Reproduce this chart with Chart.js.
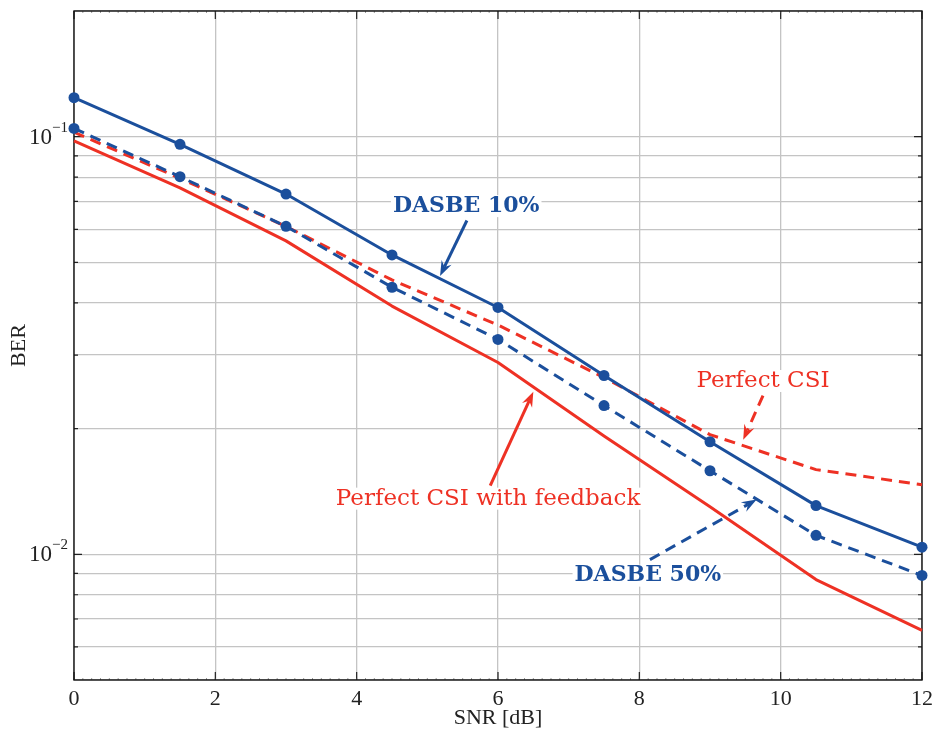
<!DOCTYPE html>
<html>
<head>
<meta charset="utf-8">
<script src="https://cdn.jsdelivr.net/npm/chart.js@4.4.1/dist/chart.umd.min.js"></script>
<style>
html,body{margin:0;padding:0;background:#fff;}
#wrap{width:937px;height:731px;position:relative;}
</style>
</head>
<body>
<div id="wrap"><canvas id="c"></canvas></div>
<script>
// ---- data ----
const snr = [0, 1.5, 3, 4.5, 6, 7.5, 9, 10.5, 12];
const dasbe10 = [0.124, 0.0959, 0.0729, 0.0521, 0.0390, 0.0268, 0.0186, 0.01308, 0.0104];
const dasbe50 = [0.1047, 0.0802, 0.0610, 0.0436, 0.0327, 0.0227, 0.01585, 0.0111, 0.0089];
const perfectCSI = [0.1025, 0.0795, 0.0610, 0.0454, 0.0354, 0.0265, 0.01934, 0.01595, 0.01468];
const perfectFb = [0.0977, 0.0754, 0.0563, 0.0393, 0.0288, 0.0192, 0.0130, 0.0087, 0.00657];
const xTickLabels = [0, 2, 4, 6, 8, 10, 12];
const yGridValues = [0.005, 0.006, 0.007, 0.008, 0.009, 0.01, 0.02, 0.03, 0.04, 0.05, 0.06, 0.07, 0.08, 0.09, 0.1, 0.2];
const yMajorTicks = [0.01, 0.1];
const yMajorExponents = ['\u22122', '\u22121'];
const seriesNames = ['DASBE 10%', 'DASBE 50%', 'Perfect CSI', 'Perfect CSI with feedback'];

// ---- style ----
const BLUE = '#1b4f9c', RED = '#ee3124';
const DASH = [11, 7];
const SERIF = '"Liberation Serif", "DejaVu Serif", serif';

// annotation anchors (data coordinates)
const notes = [
  {text: 'DASBE 10%', color: BLUE, font: 'bold 22px "DejaVu Serif"', at: [5.55, 0.0682], from: [5.56, 0.0630], to: [5.18, 0.0464], dashed: false},
  {text: 'Perfect CSI', color: RED, font: '23px "DejaVu Serif"', at: [9.75, 0.0260], from: [9.75, 0.0240], to: [9.47, 0.0188], dashed: true},
  {text: 'Perfect CSI with feedback', color: RED, font: '23px "DejaVu Serif"', at: [5.86, 0.01359], from: [5.89, 0.0146], to: [6.50, 0.0245], dashed: false},
  {text: 'DASBE 50%', color: BLUE, font: 'bold 22px "DejaVu Serif"', at: [8.12, 0.00889], from: [8.15, 0.00971], to: [9.66, 0.01352], dashed: true}
];

function drawArrow(ctx, x0, y0, x1, y1, color, dashed) {
  const ang = Math.atan2(y1 - y0, x1 - x0);
  const c = Math.cos(ang), s = Math.sin(ang);
  const L = 15, W = 5.5, N = 10;
  const bx = x1 - N * c, by = y1 - N * s;
  ctx.save();
  ctx.strokeStyle = color; ctx.fillStyle = color;
  ctx.lineWidth = 3; ctx.lineCap = 'butt';
  ctx.setLineDash(dashed ? DASH : []);
  ctx.beginPath(); ctx.moveTo(x0, y0); ctx.lineTo(bx, by); ctx.stroke();
  ctx.setLineDash([]);
  ctx.beginPath();
  ctx.moveTo(x1, y1);
  ctx.lineTo(x1 - L * c - W * s, y1 - L * s + W * c);
  ctx.lineTo(bx, by);
  ctx.lineTo(x1 - L * c + W * s, y1 - L * s - W * c);
  ctx.closePath(); ctx.fill();
  ctx.restore();
}

const decor = {
  id: 'decor',
  beforeDatasetsDraw(chart) {
    const {ctx, chartArea: a, scales: {x, y}} = chart;
    ctx.save();
    ctx.strokeStyle = '#222';
    ctx.lineWidth = 1.2;
    // inward ticks x
    ctx.beginPath();
    for (const v of xTickLabels) {
      const px = x.getPixelForValue(v);
      ctx.moveTo(px, a.bottom); ctx.lineTo(px, a.bottom - 8);
      ctx.moveTo(px, a.top); ctx.lineTo(px, a.top + 8);
    }
    ctx.stroke();
    ctx.lineWidth = 0.6;
    ctx.strokeStyle = '#555';
    ctx.beginPath();
    for (let k = 0; k <= 96; k++) {
      const px = x.getPixelForValue(k * 0.125);
      ctx.moveTo(px, a.bottom); ctx.lineTo(px, a.bottom - 2);
      ctx.moveTo(px, a.top); ctx.lineTo(px, a.top + 2);
    }
    ctx.stroke();
    // inward ticks y
    ctx.strokeStyle = '#222';
    ctx.lineWidth = 1.2;
    ctx.beginPath();
    for (const v of yGridValues) {
      const py = y.getPixelForValue(v);
      if (py < a.top + 1 || py > a.bottom - 1) continue;
      const len = yMajorTicks.includes(v) ? 8 : 4;
      ctx.moveTo(a.left, py); ctx.lineTo(a.left + len, py);
      ctx.moveTo(a.right, py); ctx.lineTo(a.right - len, py);
    }
    ctx.stroke();
    // frame
    ctx.strokeStyle = '#111';
    ctx.lineWidth = 1.4;
    ctx.strokeRect(a.left, a.top, a.right - a.left, a.bottom - a.top);
    // y tick labels 10^k
    ctx.fillStyle = '#222';
    yMajorTicks.forEach((v, i) => {
      const py = y.getPixelForValue(v);
      const right = a.left - 6;
      ctx.font = '15px ' + SERIF;
      ctx.textAlign = 'right';
      ctx.textBaseline = 'alphabetic';
      const ew = ctx.measureText(yMajorExponents[i]).width;
      ctx.fillText(yMajorExponents[i], right, py - 5);
      ctx.font = '23px ' + SERIF;
      ctx.fillText('10', right - ew, py + 7);
    });
    ctx.restore();
  },
  afterDatasetsDraw(chart) {
    const {ctx, scales: {x, y}} = chart;
    for (const n of notes) {
      drawArrow(ctx, x.getPixelForValue(n.from[0]), y.getPixelForValue(n.from[1]),
                x.getPixelForValue(n.to[0]), y.getPixelForValue(n.to[1]), n.color, n.dashed);
    }
    for (const n of notes) {
      const tx = x.getPixelForValue(n.at[0]), ty = y.getPixelForValue(n.at[1]);
      ctx.save();
      ctx.font = n.font;
      const w = ctx.measureText(n.text).width;
      ctx.fillStyle = '#fff';
      ctx.fillRect(tx - w / 2 - 2, ty - 11, w + 4, 22);
      ctx.fillStyle = n.color;
      ctx.textAlign = 'center';
      ctx.textBaseline = 'middle';
      ctx.fillText(n.text, tx, ty);
      ctx.restore();
    }
  }
};

const mk = (label, data, color, dashed, points) => ({
  label, data: snr.map((v, i) => ({x: v, y: data[i]})),
  borderColor: color, backgroundColor: color,
  borderWidth: 3, borderDash: dashed ? DASH : [],
  pointRadius: points ? 5.5 : 0, pointHoverRadius: points ? 5.5 : 0,
  pointBackgroundColor: color, pointBorderWidth: 0,
  tension: 0, clip: false, borderCapStyle: 'butt', borderJoinStyle: 'round'
});

new Chart(document.getElementById('c'), {
  type: 'line',
  data: {
    datasets: [
      mk(seriesNames[0], dasbe10, BLUE, false, true),
      mk(seriesNames[1], dasbe50, BLUE, true, true),
      mk(seriesNames[2], perfectCSI, RED, true, false),
      mk(seriesNames[3], perfectFb, RED, false, false)
    ]
  },
  options: {
    responsive: true,
    maintainAspectRatio: false,
    animation: false,
    events: [],
    layout: {padding: {top: 11, right: 15, left: 0, bottom: 0}},
    plugins: {legend: {display: false}, tooltip: {enabled: false}},
    scales: {
      x: {
        type: 'linear', min: 0, max: 12,
        afterBuildTicks: s => { s.ticks = xTickLabels.map(v => ({value: v})); },
        afterFit: s => { s.height = 51; s.paddingLeft = 0; s.paddingRight = 0; },
        grid: {color: '#c4c4c4', lineWidth: 1.3, drawTicks: false},
        border: {display: false},
        ticks: {color: '#222', padding: 6, font: {family: SERIF, size: 22}, maxRotation: 0, autoSkip: false},
        title: {display: true, text: 'SNR [dB]', color: '#222', font: {family: SERIF, size: 22}, padding: {top: 2, bottom: 0}}
      },
      y: {
        type: 'logarithmic', min: 0.005, max: 0.2,
        afterBuildTicks: s => { s.ticks = yGridValues.map(v => ({value: v, major: yMajorTicks.includes(v)})); },
        afterFit: s => { s.width = 74; s.paddingTop = 0; s.paddingBottom = 0; },
        grid: {color: '#c4c4c4', lineWidth: 1.3, drawTicks: false},
        border: {display: false},
        ticks: {color: '#222', padding: 7, autoSkip: false, font: {family: SERIF, size: 22}, callback: () => ''},
        title: {display: true, text: 'BER', color: '#222', font: {family: SERIF, size: 22}, padding: {top: 6, bottom: 0}}
      }
    }
  },
  plugins: [decor]
});
</script>
</body>
</html>
